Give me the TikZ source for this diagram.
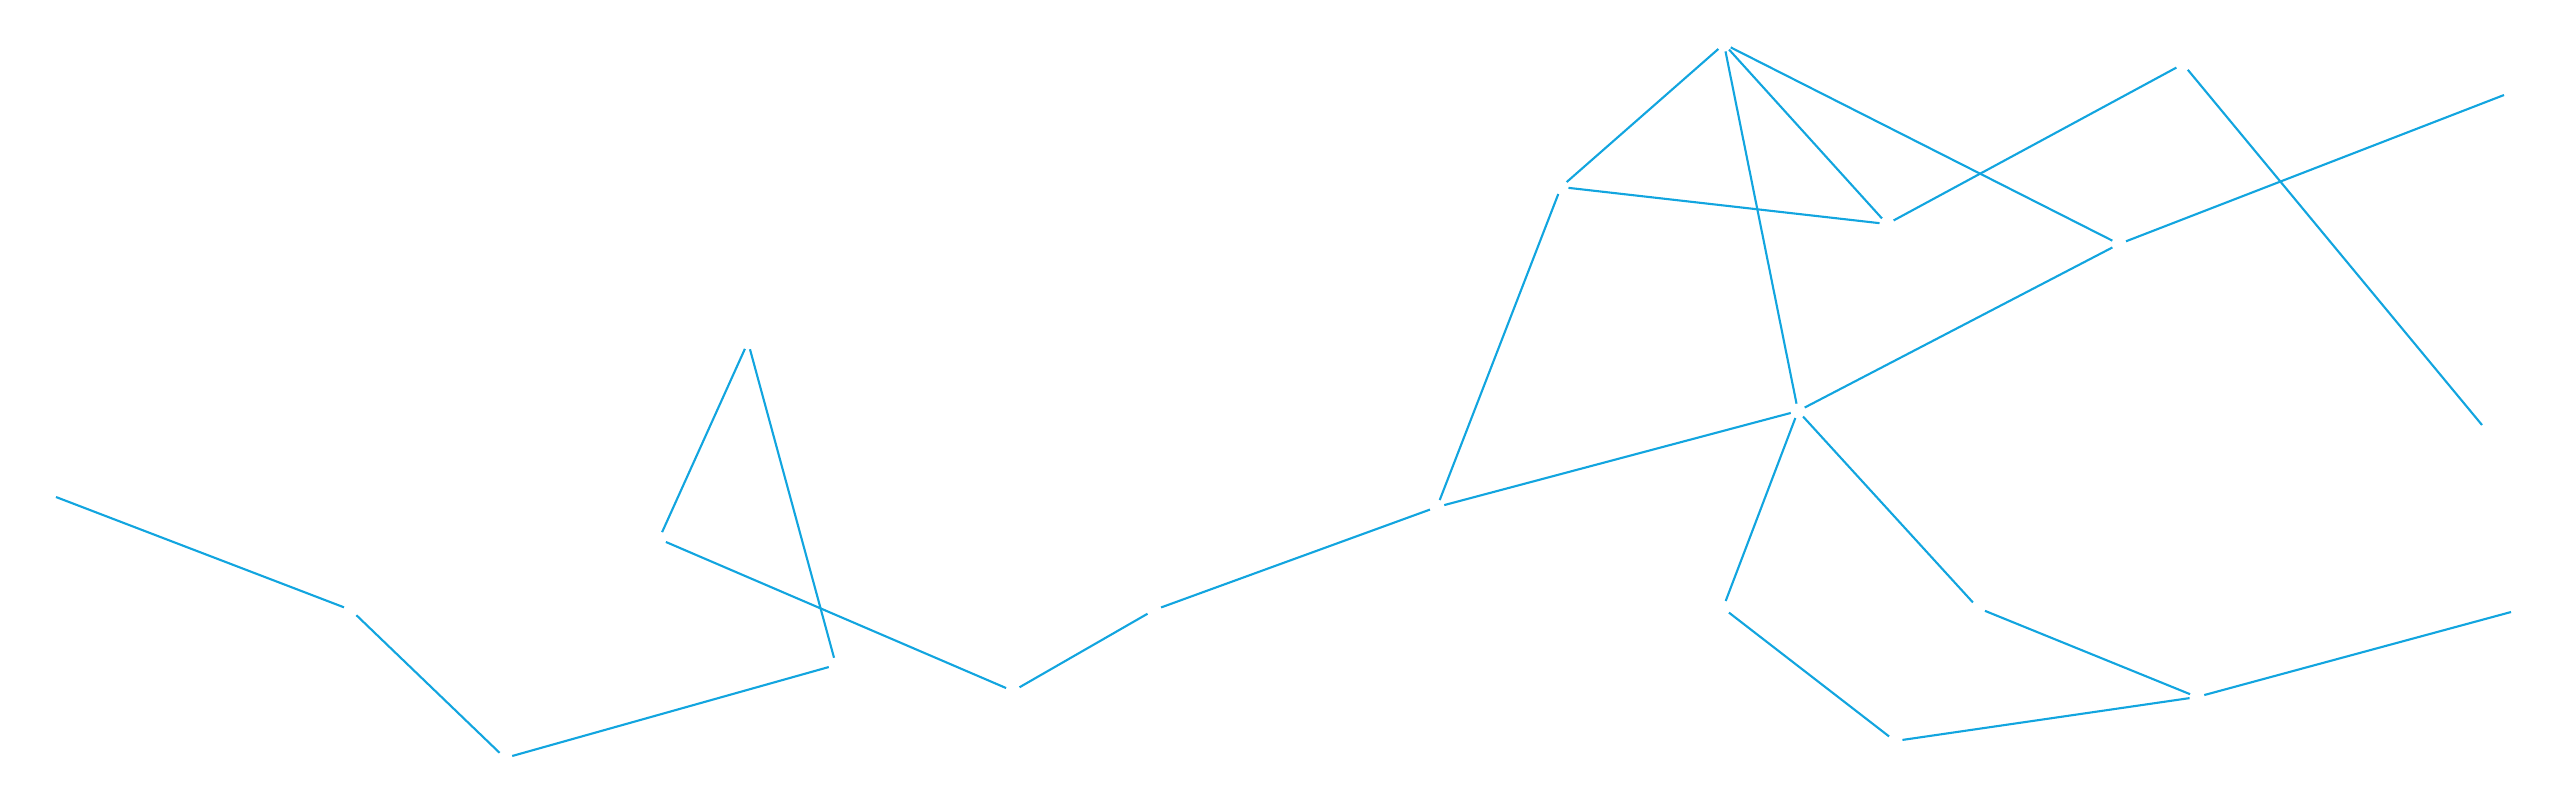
\documentclass[tikz,border=0pt]{standalone}
\definecolor{linec}{RGB}{18,165,223}
\begin{document}
\begin{tikzpicture}[x=0.01cm,y=-0.01cm,
  pt/.style={circle,inner sep=0pt,outer sep=0pt,minimum size=0.15cm},
  edge/.style={draw=linec,line width=0.6pt}]
\useasboundingbox (0,0) rectangle (2560,790);
\node[pt] (A) at (351,610) {};
\node[pt] (B) at (505,758) {};
\node[pt] (C) at (836,665) {};
\node[pt] (G) at (748,342) {};
\node[pt] (D) at (659,539) {};
\node[pt] (E) at (1013,691) {};
\node[pt] (F) at (1154,610) {};
\node[pt] (H) at (1437,507) {};
\node[pt] (I) at (1561,187) {};
\node[pt] (J) at (1798,411) {};
\node[pt] (K) at (1723,608) {};
\node[pt] (L) at (1895,741) {};
\node[pt] (M) at (2197,697) {};
\node[pt] (N) at (1978,608) {};
\node[pt] (P) at (2119,244) {};
\node[pt] (O) at (1724,44) {};
\node[pt] (Q) at (1887,224) {};
\node[pt] (R) at (2183,64) {};
\coordinate (s0) at (56,497);
\coordinate (S) at (2482,425);
\coordinate (T) at (2504,95);
\coordinate (U) at (2511,612);
\draw[edge] (s0) -- (A);
\draw[edge] (A) -- (B);
\draw[edge] (B) -- (C);
\draw[edge] (G) -- (D);
\draw[edge] (G) -- (C);
\draw[edge] (D) -- (E);
\draw[edge] (E) -- (F);
\draw[edge] (F) -- (H);
\draw[edge] (H) -- (I);
\draw[edge] (H) -- (J);
\draw[edge] (J) -- (K);
\draw[edge] (K) -- (L);
\draw[edge] (L) -- (M);
\draw[edge] (M) -- (U);
\draw[edge] (J) -- (N);
\draw[edge] (N) -- (M);
\draw[edge] (J) -- (O);
\draw[edge] (J) -- (P);
\draw[edge] (O) -- (I);
\draw[edge] (I) -- (Q);
\draw[edge] (O) -- (Q);
\draw[edge] (O) -- (P);
\draw[edge] (Q) -- (R);
\draw[edge] (R) -- (S);
\draw[edge] (P) -- (T);
\end{tikzpicture}
\end{document}
